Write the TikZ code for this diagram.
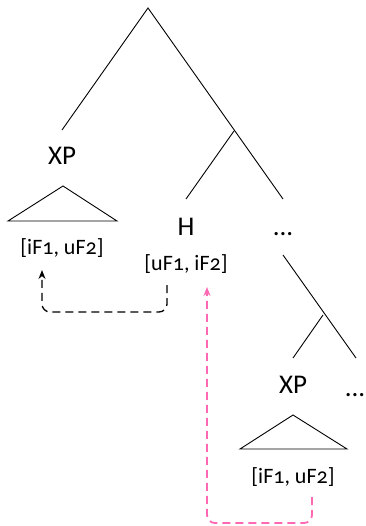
\documentclass[tikz,border=0pt]{standalone}
\usepackage{fontspec}
\setmainfont{Carlito}[Numbers=OldStyle]
\usetikzlibrary{arrows.meta}
\definecolor{agreepink}{HTML}{FF69B4}
\begin{document}
\begin{tikzpicture}[x=1pt,y=-1pt,
  branch/.style={line width=0.9pt},
  cat/.style={font=\fontsize{27}{29}\selectfont, anchor=base, inner sep=0pt},
  feat/.style={font=\fontsize{22}{25}\selectfont, anchor=base, inner sep=0pt},
  probe/.style={dashed, dash pattern=on 8pt off 5pt, line width=1.3pt,
    rounded corners=8pt, -{Stealth[length=9pt,width=7pt]}},
  ppink/.style={probe, draw=agreepink, line width=1.8pt}]
\useasboundingbox (0,0) rectangle (365,526);

% tree skeleton
\coordinate (root) at (148,8);
\coordinate (xpTop) at (62,130);
\coordinate (vp) at (234,131);
\coordinate (hTop) at (186,199);
\coordinate (restTop) at (283,199);
\coordinate (low) at (283,255);
\coordinate (lowNode) at (323,315);
\coordinate (xp2Top) at (293,358);
\coordinate (rest2Top) at (356,358);

\draw[branch] (xpTop) -- (root) -- (restTop);
\draw[branch] (vp) -- (hTop);
\draw[branch] (low) -- (rest2Top);
\draw[branch] (lowNode) -- (xp2Top);

% labels
\node[cat] (xp1) at (62,165) {XP};
\node[cat] (h) at (186,235) {H};
\node[cat] (dots1) at (283,235) {...};
\node[cat] (xp2) at (293,393) {XP};
\node[cat] (dots2) at (355,396) {...};

% phrase triangles
\draw[branch] (8,221) -- (63,186) -- (117,221) -- cycle;
\draw[branch] (240,449) -- (293,415) -- (347,449) -- cycle;

% feature bundles
\node[feat] (f1) at (62,254) {[iF1, uF2]};
\node[feat] (f2) at (186,270) {[uF1, iF2]};
\node[feat] (f3) at (293,483) {[iF1, uF2]};

% agreement paths
\coordinate (s1) at (167,285);
\coordinate (t1) at (42,270);
\draw[probe] (s1) -- (167,312) -- (42,312) -- (t1);
\coordinate (s2) at (312,497);
\coordinate (t2) at (207,287);
\draw[ppink] (s2) -- (312,523) -- (207,523) -- (t2);
\end{tikzpicture}
\end{document}
